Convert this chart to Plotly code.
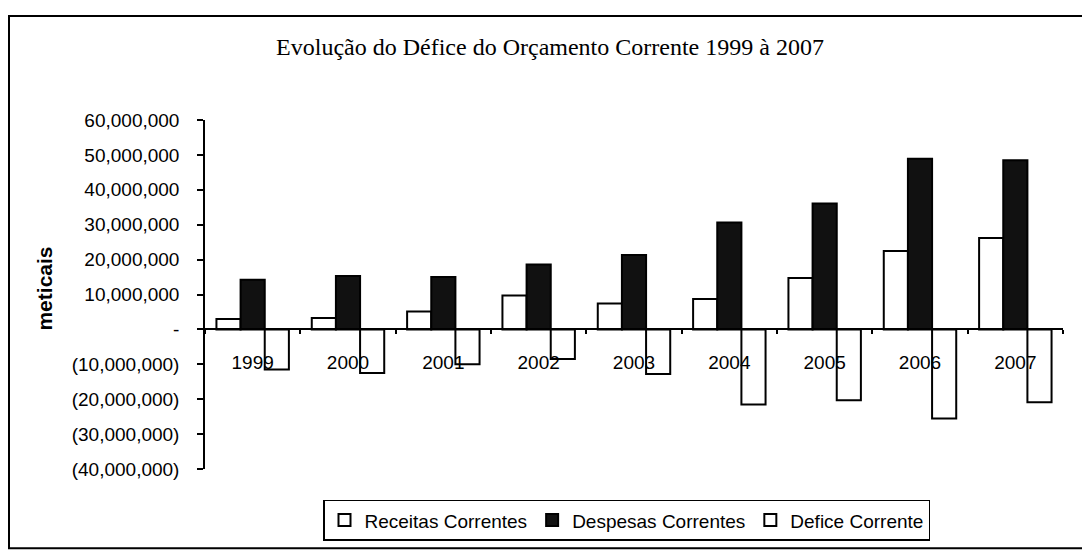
import plotly.graph_objects as go

anos = ["1999", "2000", "2001", "2002", "2003", "2004", "2005", "2006", "2007"]
receitas = [3.0e6, 3.3e6, 5.1e6, 9.7e6, 7.4e6, 8.7e6, 14.7e6, 22.5e6, 26.2e6]
despesas = [14.2e6, 15.3e6, 15.0e6, 18.6e6, 21.3e6, 30.6e6, 36.1e6, 48.9e6, 48.5e6]
defice = [-11.5e6, -12.5e6, -10.0e6, -8.5e6, -12.8e6, -21.5e6, -20.3e6, -25.5e6, -20.9e6]

tick_vals = [60e6, 50e6, 40e6, 30e6, 20e6, 10e6, 0, -10e6, -20e6, -30e6, -40e6]
tick_text = ["60,000,000", "50,000,000", "40,000,000", "30,000,000", "20,000,000",
             "10,000,000", "-", "(10,000,000)", "(20,000,000)", "(30,000,000)", "(40,000,000)"]

# page body has an 8px margin: work in screen pixels and convert
OFF = 8
W, H = 1090 - OFF, 553 - OFF
L, R, T, B = 205 - OFF, 1063 - OFF, 120 - OFF, 472 - OFF
pw, ph = R - L, B - T

def px(x):
    return (x - OFF - L) / pw

def py(y):
    return (B - (y - OFF)) / ph

line = dict(color="black", width=2)
fig = go.Figure()
fig.add_trace(go.Bar(name="Receitas Correntes", x=anos, y=receitas,
                     marker=dict(color="white", line=line)))
fig.add_trace(go.Bar(name="Despesas Correntes", x=anos, y=despesas,
                     marker=dict(color="#111111", line=line)))
fig.add_trace(go.Bar(name="Defice Corrente", x=anos, y=defice,
                     marker=dict(color="white", line=line)))

font = "Liberation Sans, Arial, sans-serif"
fig.update_layout(
    width=W, height=H,
    margin=dict(l=L, r=W - R, t=T, b=H - B),
    paper_bgcolor="white", plot_bgcolor="white",
    barmode="group", bargap=0.24, bargroupgap=0,
    font=dict(family=font, size=19, color="black"),
    title=dict(text="Evolução do Défice do Orçamento Corrente 1999 à 2007",
               x=(550 - OFF) / W, xanchor="center", y=1 - (47 - OFF) / H, yanchor="middle",
               font=dict(family="Liberation Serif, Times New Roman, serif", size=24, color="black")),
    xaxis=dict(type="category", anchor="free", position=py(331),
               showline=True, linecolor="black", linewidth=2,
               ticks="outside", tickson="boundaries", ticklen=4, tickwidth=1.5, tickcolor="black",
               ticklabelstandoff=16, showgrid=False, zeroline=False,
               tickfont=dict(family=font, size=19)),
    yaxis=dict(range=[-40e6, 60e6], tickvals=tick_vals, ticktext=tick_text,
               showline=True, linecolor="black", linewidth=1.5,
               ticks="outside", ticklen=6, tickwidth=1.5, tickcolor="black",
               ticklabelstandoff=14, showgrid=False, zeroline=False,
               tickfont=dict(family=font, size=19)),
    legend=dict(orientation="h", x=px(323), xanchor="left", y=py(503), yanchor="top",
                bordercolor="black", borderwidth=1.5, bgcolor="white",
                font=dict(family=font, size=19), traceorder="normal",
                itemwidth=30, tracegroupgap=0),
    annotations=[dict(text="<b>meticais</b>", xref="paper", yref="paper",
                      x=px(45), y=py(290), xanchor="center", yanchor="middle",
                      textangle=-90, showarrow=False,
                      font=dict(family=font, size=21, color="black"))],
    shapes=[dict(type="rect", xref="paper", yref="paper",
                 x0=px(9), x1=px(1085), y0=py(552), y1=py(15),
                 line=dict(color="black", width=2), fillcolor="rgba(0,0,0,0)", layer="below")],
    showlegend=True,
)

fig.write_html("out.html")
